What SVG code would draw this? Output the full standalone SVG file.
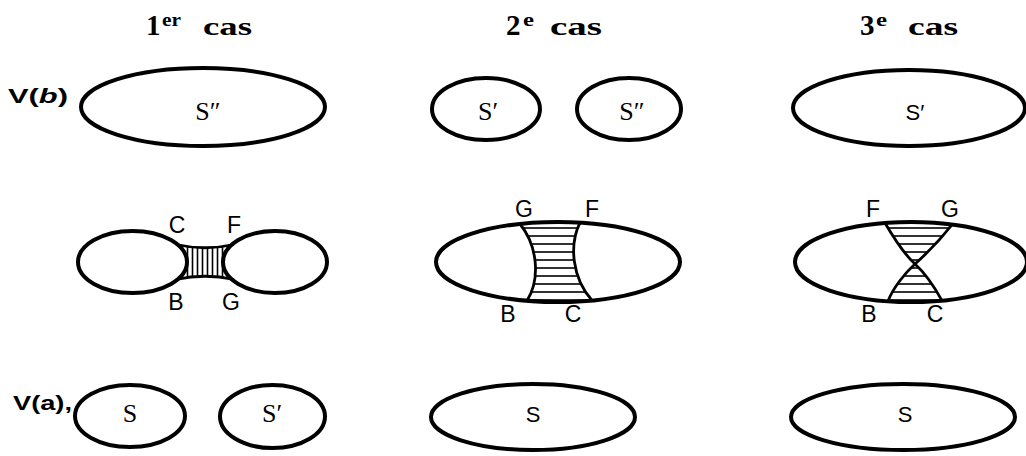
<svg xmlns="http://www.w3.org/2000/svg" width="1026" height="456" viewBox="0 0 1026 456">
<style>
.line{fill:none;stroke:#000;stroke-width:4}
.wline{fill:#fff;stroke:#000;stroke-width:4}
.thin{fill:none;stroke:#000;stroke-width:2.8}
.title{font-family:"Liberation Serif",serif;font-weight:bold;fill:#000}
.lbl{font-family:"Liberation Sans",Arial,sans-serif;font-size:23px;fill:#000;text-anchor:middle}
.ser{font-family:"Liberation Serif",serif;font-size:26px;fill:#000;text-anchor:middle}
.san{font-family:"Liberation Sans",Arial,sans-serif;font-size:22px;fill:#000;text-anchor:middle}
.v{font-family:"Liberation Sans",Arial,sans-serif;font-weight:bold;font-size:20px;fill:#000}
</style>
<defs>
<pattern id="hatchV" patternUnits="userSpaceOnUse" width="5" height="10">
<line x1="2.5" y1="0" x2="2.5" y2="10" stroke="#000" stroke-width="1.6"/>
</pattern>
<pattern id="hatchH" patternUnits="userSpaceOnUse" width="10" height="8">
<line x1="0" y1="4" x2="10" y2="4" stroke="#000" stroke-width="1.6"/>
</pattern>
</defs>

<g id="title-1"><text class="title"><tspan x="146" y="35" font-size="29">1</tspan><tspan x="162" y="26" font-size="18" textLength="19" lengthAdjust="spacingAndGlyphs">er</tspan><tspan x="203" y="35" font-size="26" textLength="49" lengthAdjust="spacingAndGlyphs">cas</tspan></text></g>
<g id="title-2"><text class="title"><tspan x="506" y="35" font-size="29">2</tspan><tspan x="523" y="26" font-size="18" textLength="11" lengthAdjust="spacingAndGlyphs">e</tspan><tspan x="550" y="35" font-size="26" textLength="52" lengthAdjust="spacingAndGlyphs">cas</tspan></text></g>
<g id="title-3"><text class="title"><tspan x="860" y="35" font-size="29">3</tspan><tspan x="876" y="26" font-size="18" textLength="11" lengthAdjust="spacingAndGlyphs">e</tspan><tspan x="908" y="35" font-size="26" textLength="50" lengthAdjust="spacingAndGlyphs">cas</tspan></text></g>

<g id="label-Vb"><text class="v" x="8" y="103" textLength="60" lengthAdjust="spacingAndGlyphs">V(<tspan font-style="italic">b</tspan>)</text></g>
<g id="label-Va"><text class="v" x="13" y="410" textLength="59" lengthAdjust="spacingAndGlyphs">V(a),</text></g>

<g id="case1-top">
<ellipse class="line" cx="203" cy="107" rx="122" ry="39"/>
<text class="ser" x="208" y="120">S″</text>
</g>
<g id="case2-top-left">
<ellipse class="line" cx="486" cy="109" rx="54" ry="31"/>
<text class="ser" x="488" y="120">S′</text>
</g>
<g id="case2-top-right">
<ellipse class="line" cx="629" cy="109" rx="52" ry="31"/>
<text class="ser" x="632" y="120">S″</text>
</g>
<g id="case3-top">
<ellipse class="line" cx="909" cy="108" rx="116" ry="38"/>
<text class="san" x="915" y="120">S′</text>
</g>

<g id="case1-middle">
<path d="M178,245 Q205,251 232,245 L232,279 Q205,273 178,279 Z" fill="url(#hatchV)"/>
<ellipse class="wline" cx="132.5" cy="262" rx="54.5" ry="31"/>
<ellipse class="wline" cx="275" cy="262" rx="52" ry="31"/>
<path class="thin" d="M176,244.5 Q205,251 234,244.5 M176,279.5 Q205,273 234,279.5"/>
<text class="lbl" x="177" y="233">C</text>
<text class="lbl" x="234" y="233">F</text>
<text class="lbl" x="176" y="310">B</text>
<text class="lbl" x="231" y="310">G</text>
</g>

<g id="case2-middle">
<path d="M520,224 C537,245 541,278 527,300.7 A122 40 0 0 0 592,300.4 C572,278 569,245 580,222.6 A122 40 0 0 0 520,224 Z" fill="url(#hatchH)"/>
<path class="thin" d="M520,224 C537,245 541,278 527,300.7 M580,222.6 C569,245 572,278 592,300.4"/>
<ellipse class="line" cx="558" cy="262" rx="122" ry="40"/>
<text class="lbl" x="524" y="217">G</text>
<text class="lbl" x="592" y="217">F</text>
<text class="lbl" x="508" y="322">B</text>
<text class="lbl" x="573" y="322">C</text>
</g>

<g id="case3-middle">
<path d="M885,223 C895,240 905,255 915,264 C925,255 940,240 952,224.6 A116 40 0 0 0 885,223 Z" fill="url(#hatchH)"/>
<path d="M915,264 C905,273 893,288 888,301.2 A116 40 0 0 0 942,300.6 C935,288 925,273 915,264 Z" fill="url(#hatchH)"/>
<path class="thin" d="M885,223 C895,240 905,255 915,264 C925,273 935,288 942,300.6 M952,224.6 C940,240 925,255 915,264 C905,273 893,288 888,301.2"/>
<ellipse class="line" cx="911" cy="262" rx="116" ry="40"/>
<text class="lbl" x="873" y="217">F</text>
<text class="lbl" x="950" y="217">G</text>
<text class="lbl" x="869" y="322">B</text>
<text class="lbl" x="935" y="322">C</text>
</g>

<g id="case1-bottom-left">
<ellipse class="line" cx="130" cy="416" rx="55" ry="31"/>
<text class="ser" x="130" y="422">S</text>
</g>
<g id="case1-bottom-right">
<ellipse class="line" cx="272.5" cy="416.5" rx="52.5" ry="31.5"/>
<text class="ser" x="272" y="422">S′</text>
</g>
<g id="case2-bottom">
<ellipse class="line" cx="533" cy="417" rx="102" ry="33"/>
<text class="san" x="533" y="422">S</text>
</g>
<g id="case3-bottom">
<ellipse class="line" cx="903" cy="417" rx="112" ry="33"/>
<text class="san" x="905" y="422">S</text>
</g>

<g id="connectors"></g>
</svg>
